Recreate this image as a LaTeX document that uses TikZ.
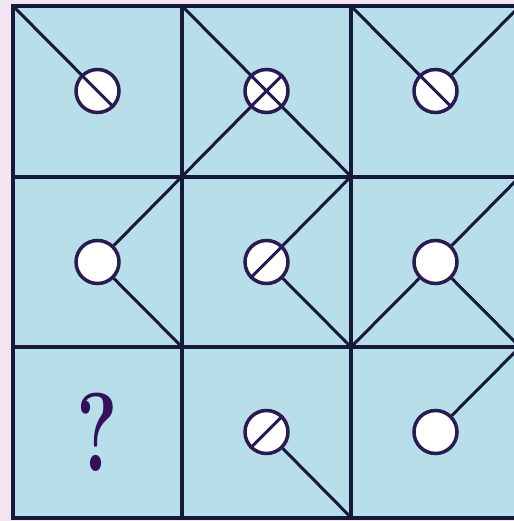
\documentclass[tikz,border=0pt]{standalone}
\definecolor{bgpink}{HTML}{F2E4F0}
\definecolor{cellblue}{HTML}{B8DEEA}
\definecolor{gridnavy}{HTML}{15193A}
\definecolor{ringpurple}{HTML}{2A1A52}
\definecolor{qpurple}{HTML}{33105A}
\pgfdeclarelayer{bg}
\pgfdeclarelayer{mid}
\pgfsetlayers{bg,mid,main}
\begin{document}
\begin{tikzpicture}[x=0.5pt,y=-0.5pt,
  gridline/.style={draw=gridnavy,line width=2pt},
  spoke/.style={draw=gridnavy,line width=1.5pt},
  ring/.style={circle,draw=ringpurple,fill=white,line width=1.75pt,minimum size=21.5pt,inner sep=0pt},
  bar/.style={draw=ringpurple,line width=1.5pt},
  qmark/.style={text=qpurple,font=\fontsize{56}{56}\selectfont\bfseries,xscale=0.7,inner sep=0pt}]
\useasboundingbox (0,0) rectangle (514,521);
\clip (0,0) rectangle (514,521);
\foreach \i/\x in {0/13,1/182,2/351,3/520}{
  \foreach \j/\y in {0/6,1/176.5,2/347,3/517.5}{
    \coordinate (p\i\j) at (\x,\y);
  }}
\begin{pgfonlayer}{bg}
\fill[bgpink] (0,0) rectangle (514,521);
\fill[cellblue] (p00) rectangle (p33);
\draw[gridline] (p10) -- (p13);
\draw[gridline] (p20) -- (p23);
\draw[gridline] (p01) -- (p31);
\draw[gridline] (p02) -- (p32);
\draw[gridline] (p00) rectangle (p33);
\end{pgfonlayer}
% rings
\node[ring] (c11) at (97.5,91) {};
\node[ring] (c12) at (266.5,91) {};
\node[ring] (c13) at (435.5,91) {};
\node[ring] (c21) at (97.5,262) {};
\node[ring] (c22) at (266.5,262) {};
\node[ring] (c23) at (435.5,262) {};
\node[qmark] (q) at (97.5,432) {?};
\node[ring] (c32) at (266.5,432) {};
\node[ring] (c33) at (435.5,432) {};
% spokes
\begin{pgfonlayer}{mid}
\draw[spoke] (p00) -- (c11);
\draw[spoke] (p10) -- (c12);
\draw[spoke] (p11) -- (c12);
\draw[spoke] (p21) -- (c12);
\draw[spoke] (p20) -- (c13);
\draw[spoke] (p30) -- (c13);
\draw[spoke] (p11) -- (c21);
\draw[spoke] (p12) -- (c21);
\draw[spoke] (p21) -- (c22);
\draw[spoke] (p22) -- (c22);
\draw[spoke] (p31) -- (c23);
\draw[spoke] (p22) -- (c23);
\draw[spoke] (p32) -- (c23);
\draw[spoke] (p23) -- (c32);
\draw[spoke] (p32) -- (c33);
\end{pgfonlayer}
% bars
\draw[bar] (c11.135) -- (c11.-45);
\draw[bar] (c12.135) -- (c12.-45);
\draw[bar] (c12.45) -- (c12.225);
\draw[bar] (c13.135) -- (c13.-45);
\draw[bar] (c22.45) -- (c22.225);
\draw[bar] (c32.45) -- (c32.225);
\end{tikzpicture}
\end{document}
